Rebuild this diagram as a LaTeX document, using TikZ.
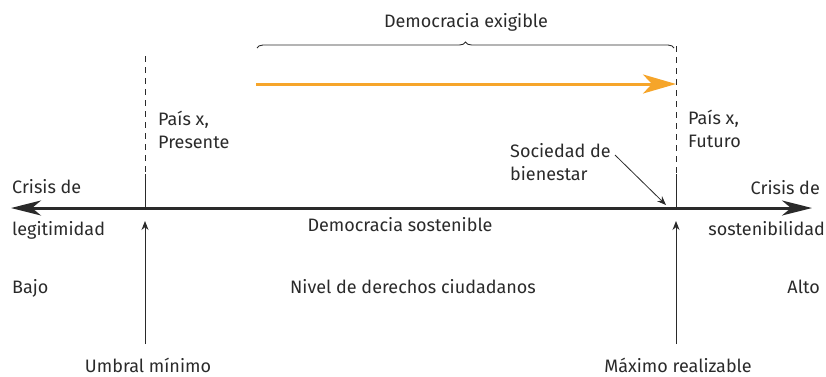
\documentclass[tikz,border=0pt]{standalone}
\usepackage{fontspec}
\setmainfont{Fira Sans}
\usetikzlibrary{arrows.meta,decorations.pathreplacing}
\definecolor{txt}{HTML}{2A2A2A}
\definecolor{orng}{HTML}{F6A52A}
\tikzset{
  lbl/.style={font=\fontsize{18}{22.5}\selectfont, text=txt, inner sep=0pt},
  dashv/.style={draw=txt, line width=0.9pt, dash pattern=on 6pt off 5pt},
  solidv/.style={draw=txt, line width=0.9pt},
}
\begin{document}
\begin{tikzpicture}[x=1pt,y=-1pt]
\useasboundingbox (0,0) rectangle (826,376);
% named coordinates
\coordinate (Lend) at (11,208);
\coordinate (Rend) at (812,208);
\coordinate (Lx) at (145,208);
\coordinate (Rx) at (676,208);
\coordinate (LxTop) at (145,56);
\coordinate (LxMid) at (145,174);
\coordinate (RxTop) at (676,46);
\coordinate (RxMid) at (676,174);
\coordinate (LxBot) at (145,344);
\coordinate (LxUp) at (145,221);
\coordinate (RxBot) at (676,344);
\coordinate (RxUp) at (676,221);
\coordinate (Os) at (256,84);
\coordinate (Oe) at (676,84);
\coordinate (Bl) at (257,48);
\coordinate (Br) at (674,48);
\coordinate (SBs) at (615,155);
\coordinate (SBe) at (666,205);
% main axis
\draw[txt, line width=3pt, {Stealth[length=30pt,width=15pt,inset=9pt]}-{Stealth[length=30pt,width=15pt,inset=9pt]}] (Lend) -- (Rend);
% verticals
\draw[dashv] (LxTop) -- (LxMid);
\draw[solidv] (LxMid) -- (Lx);
\draw[dashv] (RxTop) -- (RxMid);
\draw[solidv] (RxMid) -- (Rx);
% up arrows
\draw[solidv, -{Stealth[length=9pt,width=7pt]}] (LxBot) -- (LxUp);
\draw[solidv, -{Stealth[length=9pt,width=7pt]}] (RxBot) -- (RxUp);
% orange arrow
\draw[orng, line width=3pt, -{Stealth[length=33pt,width=19pt,inset=9pt]}] (Os) -- (Oe);
% brace
\draw[txt, line width=0.9pt, decorate, decoration={brace, amplitude=6pt, aspect=0.5}] (Bl) -- (Br);
% sociedad arrow
\draw[solidv, line width=0.8pt, -{Stealth[length=9pt,width=7pt]}] (SBs) -- (SBe);
% labels
\node[lbl, anchor=base] (dex) at (466,27) {Democracia exigible};
\node[lbl, anchor=base west, align=left] (pxp) at (158,148) {País x,\\Presente};
\node[lbl, anchor=base west, align=left] (pxf) at (688,147) {País x,\\Futuro};
\node[lbl, anchor=base west, align=left] (soc) at (510,180) {Sociedad de\\bienestar};
\node[lbl, anchor=base west] (cl1) at (12,193) {Crisis de};
\node[lbl, anchor=base west] (cl2) at (12,235) {legitimidad};
\node[lbl, anchor=base east] (cr1) at (820,194) {Crisis de};
\node[lbl, anchor=base east] (cr2) at (825,235) {sostenibilidad};
\node[lbl, anchor=base] (dso) at (400,231) {Democracia sostenible};
\node[lbl, anchor=base west] (bajo) at (12,293) {Bajo};
\node[lbl, anchor=base] (niv) at (413,293) {Nivel de derechos ciudadanos};
\node[lbl, anchor=base east] (alto) at (820,293) {Alto};
\node[lbl, anchor=base] (umb) at (148,372) {Umbral mínimo};
\node[lbl, anchor=base] (max) at (678,372) {Máximo realizable};
\end{tikzpicture}
\end{document}
